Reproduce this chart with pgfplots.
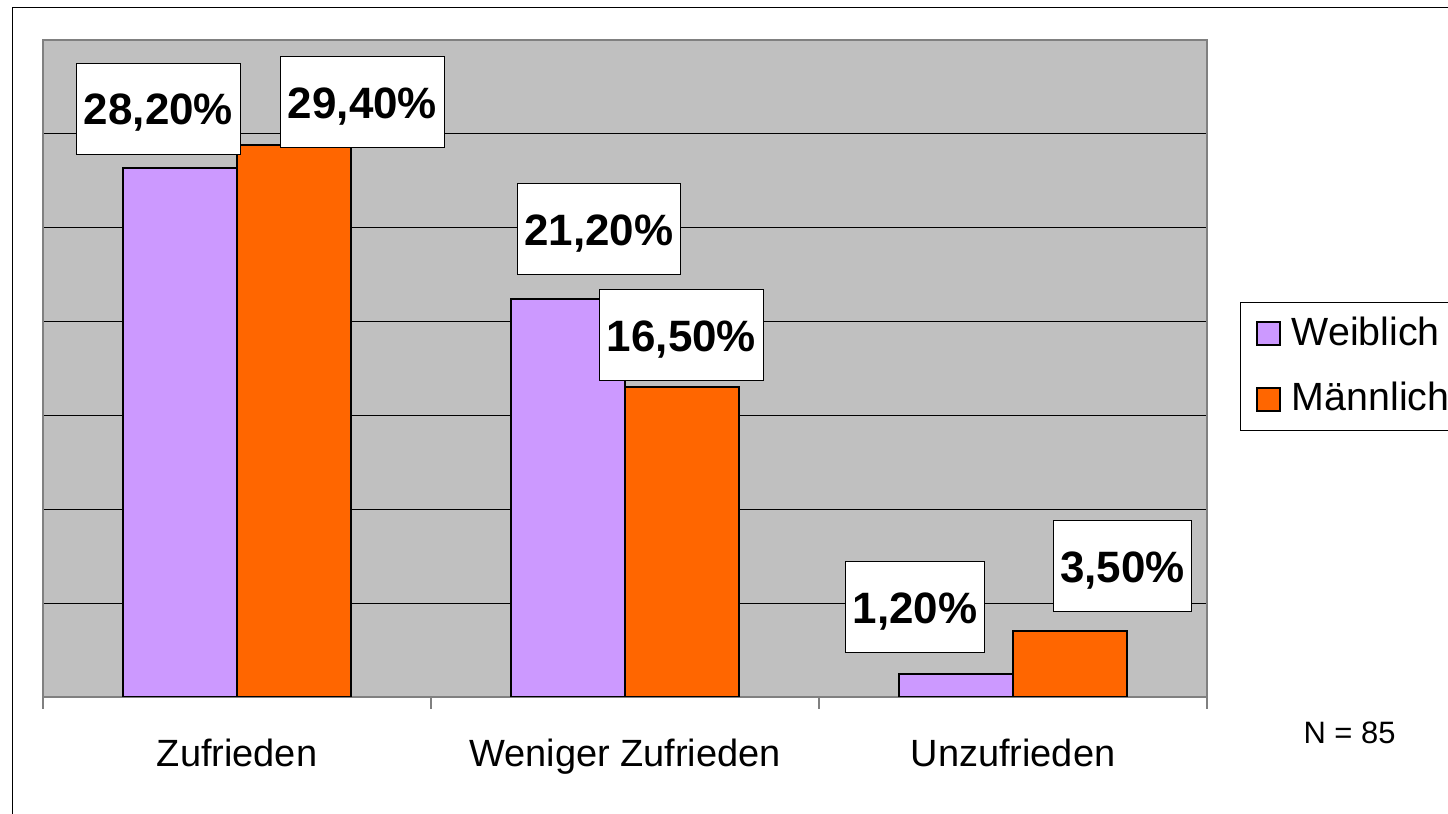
\documentclass[border=0pt]{standalone}
\usepackage{pgfplots}
\usepackage{pgfplotstable}
\pgfplotsset{compat=1.18}
\usepackage{fontspec}
\setmainfont{Liberation Sans}
\definecolor{weib}{HTML}{CC99FF}
\definecolor{maen}{HTML}{FF6600}
\definecolor{bg}{HTML}{C0C0C0}
\definecolor{frame}{HTML}{808080}

\pgfplotstableread{
x y dx dy
0 28.2 -2.15 1.3
1 21.2 3.1 2.4
2 1.2 -4.1 2.1
}\weibtab
\pgfplotstableread{
x y dx dy
0 29.4 6.85 -0.3
1 16.5 -0.05 0.6
2 3.5 5.25 1.9
}\maentab

\begin{document}
\begin{tikzpicture}
\path[use as bounding box] (0,0) rectangle (144.8mm,81.4mm);
\clip (0,0) rectangle (144.8mm,81.4mm);
\begin{axis}[
  at={(4.3mm,11.7mm)}, anchor=south west,
  scale only axis, width=116.4mm, height=65.7mm,
  xmin=-0.5, xmax=2.5, ymin=0, ymax=35,
  ybar=0pt, bar width=11.4mm,
  axis background/.style={fill=bg},
  axis line style={frame, line width=0.25mm},
  xtick={0,1,2},
  xticklabels={Zufrieden, Weniger Zufrieden, Unzufrieden},
  xticklabel style={anchor=base, yshift=-7mm, font=\fontsize{10.8}{13}\selectfont},
  minor xtick={-0.5,0.5,1.5,2.5},
  major tick length=0pt, minor tick length=1.2mm,
  tick align=outside,
  xtick pos=lower, ytick pos=left,
  minor x tick style={frame, line width=0.15mm},
  ytick={0,5,...,35}, yticklabels={},
  ymajorgrids, grid style={black, line width=0.1mm},
  point meta=y,
  nodes near coords={\pgfmathprintnumber[fixed,fixed zerofill,precision=2,use comma,assume math mode=true]{\pgfplotspointmeta}\%},
  every node near coord/.append style={anchor=south, fill=white, draw=black, text=black,
     line width=0.1mm, inner xsep=0.72mm, inner ysep=2.95mm, text height=3.2mm, text depth=0mm,
     font=\fontsize{12.5}{15}\selectfont\bfseries},
  legend style={at={(axis description cs:1.0284,0.6012)}, anchor=north west,
     draw=black, line width=0.1mm, font=\fontsize{11.2}{13}\selectfont,
     inner xsep=1.5mm, inner ysep=0.7mm, row sep=1.8mm,
     cells={anchor=west}},
  legend image code/.code={\draw[#1, line width=0.25mm] (0mm,-1.15mm) rectangle (2.3mm,1.15mm); \path (2.7mm,0mm);},
]
\addplot[fill=weib, draw=black, line width=0.2mm,
  visualization depends on={\thisrow{dx}\as\dx},
  visualization depends on={\thisrow{dy}\as\dy},
  nodes near coords style={xshift=\dx mm, yshift=\dy mm}]
  table[x=x,y=y] {\weibtab};
\addplot[fill=maen, draw=black, line width=0.2mm,
  visualization depends on={\thisrow{dx}\as\dx},
  visualization depends on={\thisrow{dy}\as\dy},
  nodes near coords style={xshift=\dx mm, yshift=\dy mm}]
  table[x=x,y=y] {\maentab};
\legend{Weiblich, Männlich\hspace*{3mm}}
\end{axis}
\node[anchor=base, font=\fontsize{8.8}{10}\selectfont, inner sep=0pt] at (134.95mm,7.0mm) {N = 85};
\draw[black, line width=0.15mm] (1.25mm,-5mm) rectangle (150mm,80.65mm);
\end{tikzpicture}
\end{document}
